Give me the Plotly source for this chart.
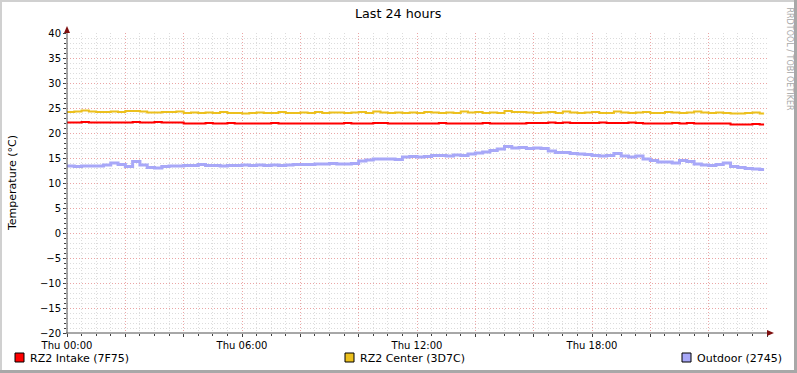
import plotly.graph_objects as go

# ---------------- data (15-minute samples, hours since Thu 00:00) ----------------
intake = [22.1,22.1,22.2,22.1,22.1,22.1,22.1,22.1,22.1,22.2,22.1,22.1,22.2,22.1,22.1,22.1,
          21.9,21.9,21.9,22.0,21.9,21.9,22.0,21.9,21.9,21.9,21.9,21.9,22.0,21.9,21.9,21.9,
          21.9,21.9,21.9,21.9,21.9,21.9,22.0,21.9,21.9,21.9,22.0,22.0,21.9,21.9,21.9,21.9,
          21.9,21.9,21.9,22.0,21.9,21.9,21.9,21.9,21.9,22.0,21.9,21.9,21.9,21.9,21.9,22.0,
          22.0,22.0,22.1,22.0,22.1,22.0,22.0,22.0,22.0,22.1,22.0,22.0,22.0,22.1,22.0,21.9,
          21.9,21.9,21.9,22.0,21.9,22.0,21.9,21.9,21.9,21.9,21.9,21.7,21.7,21.7,21.8,21.7]
center = [24.2,24.3,24.5,24.3,24.2,24.2,24.3,24.2,24.4,24.4,24.3,24.1,24.1,24.2,24.2,24.3,
          24.0,24.1,24.0,24.1,24.0,24.2,24.0,24.0,23.9,24.0,24.1,24.0,24.0,24.2,24.0,24.0,
          24.1,24.0,24.2,24.0,24.1,24.1,24.0,24.1,24.2,24.0,24.3,24.1,24.0,24.1,24.0,24.1,
          24.0,24.2,24.1,24.0,24.1,24.0,24.3,24.1,24.2,24.0,24.1,24.0,24.4,24.2,24.2,24.1,
          24.0,24.1,24.2,24.0,24.3,24.1,24.0,24.1,24.2,24.0,24.0,24.3,24.1,24.0,24.1,24.2,
          24.0,24.0,24.2,24.1,24.0,24.1,24.3,24.1,24.0,24.1,24.0,23.9,23.9,24.0,24.1,23.9]
outdoor = [13.4,13.3,13.4,13.4,13.4,13.6,14.0,13.7,13.3,14.3,13.6,13.1,13.0,13.3,13.4,13.4,
           13.5,13.5,13.7,13.5,13.5,13.4,13.5,13.5,13.6,13.5,13.6,13.5,13.6,13.5,13.6,13.7,
           13.7,13.7,13.8,13.8,13.9,13.8,13.8,13.9,14.4,14.6,14.8,14.8,14.8,14.7,15.2,15.3,
           15.2,15.3,15.5,15.5,15.4,15.6,15.5,15.8,16.0,16.2,16.5,16.8,17.3,17.0,17.1,16.9,
           17.0,16.9,16.4,16.1,16.1,15.9,15.8,15.7,15.5,15.4,15.5,15.9,15.4,15.2,15.4,14.8,
           14.5,14.2,14.2,14.0,14.5,14.3,13.8,13.6,13.5,13.7,14.0,13.3,13.1,12.9,12.8,12.7]
step_hours = 0.25
end_hour = 23.9

series_names = ["RZ2 Intake (7F75)", "RZ2 Center (3D7C)", "Outdoor (2745)"]
series_colors = ["#FF0000", "#ECC01E", "#A8A8F8"]
series_widths = [2, 2, 3]

x_tick_vals = [0, 2, 4, 6, 8, 10, 12, 14, 16, 18, 20, 22, 24]
x_tick_text = ["Thu 00:00", "", "", "Thu 06:00", "", "", "Thu 12:00", "", "", "Thu 18:00", "", "", ""]

# ---------------- geometry ----------------
W, H = 797, 373
L, R, T, B = 67, 767, 33, 333
def px(x): return (x - L) / (R - L)
def py(y): return (B - y) / (B - T)

MAJOR_GRID = "#EBA5A5"
MINOR_GRID = "#DCDCDC"
DOTS = "1px,2px"

fig = go.Figure()
for vals, name, col, w in zip([intake, center, outdoor], series_names, series_colors, series_widths):
    xs = [i * step_hours for i in range(len(vals))] + [end_hour]
    ys = vals + [vals[-1]]
    fig.add_trace(go.Scatter(x=xs, y=ys, mode="lines", name=name,
                             line=dict(color=col, width=w, shape="hv"), showlegend=False))

minor_x = [i * 0.5 for i in range(49) if (i * 0.5) % 2 != 0]
fig.update_xaxes(range=[0, 24], tickmode="array", tickvals=x_tick_vals, ticktext=x_tick_text,
                 showgrid=True, gridcolor=MAJOR_GRID, griddash=DOTS, gridwidth=1,
                 ticks="outside", ticklen=3, tickcolor="#404040", zeroline=False, showline=False,
                 tickfont=dict(family="DejaVu Sans", size=10, color="#000000"),
                 minor=dict(tickmode="array", tickvals=minor_x, showgrid=True, gridcolor=MINOR_GRID,
                            griddash=DOTS, gridwidth=1, ticks="outside", ticklen=2, tickcolor="#404040"))
fig.update_yaxes(range=[-20, 40], dtick=5, tick0=0,
                 showgrid=True, gridcolor=MAJOR_GRID, griddash=DOTS, gridwidth=1,
                 ticks="outside", ticklen=3, tickcolor="#404040", zeroline=False, showline=False,
                 tickfont=dict(family="DejaVu Sans", size=10, color="#000000"),
                 minor=dict(dtick=1, showgrid=True, gridcolor=MINOR_GRID, griddash=DOTS, gridwidth=1,
                            ticks="outside", ticklen=2, tickcolor="#404040"))

shapes = []
# frame (3D border)
shapes.append(dict(type="rect", xref="paper", yref="paper", x0=px(0), x1=px(W), y0=py(2), y1=py(0),
                   line=dict(width=0), fillcolor="#D0D0D0"))
shapes.append(dict(type="rect", xref="paper", yref="paper", x0=px(0), x1=px(2), y0=py(H), y1=py(0),
                   line=dict(width=0), fillcolor="#D0D0D0"))
shapes.append(dict(type="rect", xref="paper", yref="paper", x0=px(0), x1=px(W), y0=py(H), y1=py(H - 3),
                   line=dict(width=0), fillcolor="#A8A8A8"))
shapes.append(dict(type="rect", xref="paper", yref="paper", x0=px(W - 3), x1=px(W), y0=py(H), y1=py(0),
                   line=dict(width=0), fillcolor="#A8A8A8"))
# axis lines
shapes.append(dict(type="line", xref="paper", yref="paper", x0=px(L), x1=px(L), y0=py(B + 1), y1=py(29),
                   line=dict(color="#505050", width=1)))
shapes.append(dict(type="line", xref="paper", yref="paper", x0=px(L - 1), x1=px(770), y0=py(B), y1=py(B),
                   line=dict(color="#505050", width=1)))
# arrows
shapes.append(dict(type="path", xref="paper", yref="paper",
                   path=f"M {px(L-3)} {py(33)} L {px(L+3)} {py(33)} L {px(L)} {py(26)} Z",
                   fillcolor="#7F1010", line=dict(color="#7F1010", width=0)))
shapes.append(dict(type="path", xref="paper", yref="paper",
                   path=f"M {px(767)} {py(B-3)} L {px(767)} {py(B+3)} L {px(774)} {py(B)} Z",
                   fillcolor="#7F1010", line=dict(color="#7F1010", width=0)))

annotations = []
# legend
legend_pos = [15, 345, 682]
for lx, name, col in zip(legend_pos, series_names, series_colors):
    shapes.append(dict(type="rect", xref="paper", yref="paper", x0=px(lx), x1=px(lx + 9),
                       y0=py(362), y1=py(353), fillcolor=col, line=dict(color="#000000", width=1)))
    annotations.append(dict(xref="paper", yref="paper", x=px(lx + 13), y=py(358), text=name,
                            showarrow=False, xanchor="left", yanchor="middle",
                            font=dict(family="DejaVu Sans", size=11, color="#000000")))

annotations.append(dict(xref="paper", yref="paper", x=px(398), y=py(13), text="Last 24 hours",
                        showarrow=False, xanchor="center", yanchor="middle",
                        font=dict(family="DejaVu Sans", size=12.7, color="#000000")))
annotations.append(dict(xref="paper", yref="paper", x=px(12), y=py(183), text="Temperature (°C)",
                        showarrow=False, textangle=-90, xanchor="center", yanchor="middle",
                        font=dict(family="DejaVu Sans", size=11, color="#000000")))
annotations.append(dict(xref="paper", yref="paper", x=px(789), y=py(5), text="RRDTOOL / TOBI OETIKER",
                        showarrow=False, textangle=90, xanchor="center", yanchor="top",
                        font=dict(family="DejaVu Sans", size=8, color="#A8A8A8")))

fig.update_layout(width=W, height=H, margin=dict(l=L, r=W - R, t=T, b=H - B, pad=0),
                  paper_bgcolor="#FFFFFF", plot_bgcolor="#FFFFFF",
                  shapes=shapes, annotations=annotations, showlegend=False)

fig.write_html("out.html", config={"displayModeBar": False},
               post_script="document.body.style.margin='0';document.body.style.overflow='hidden';")
